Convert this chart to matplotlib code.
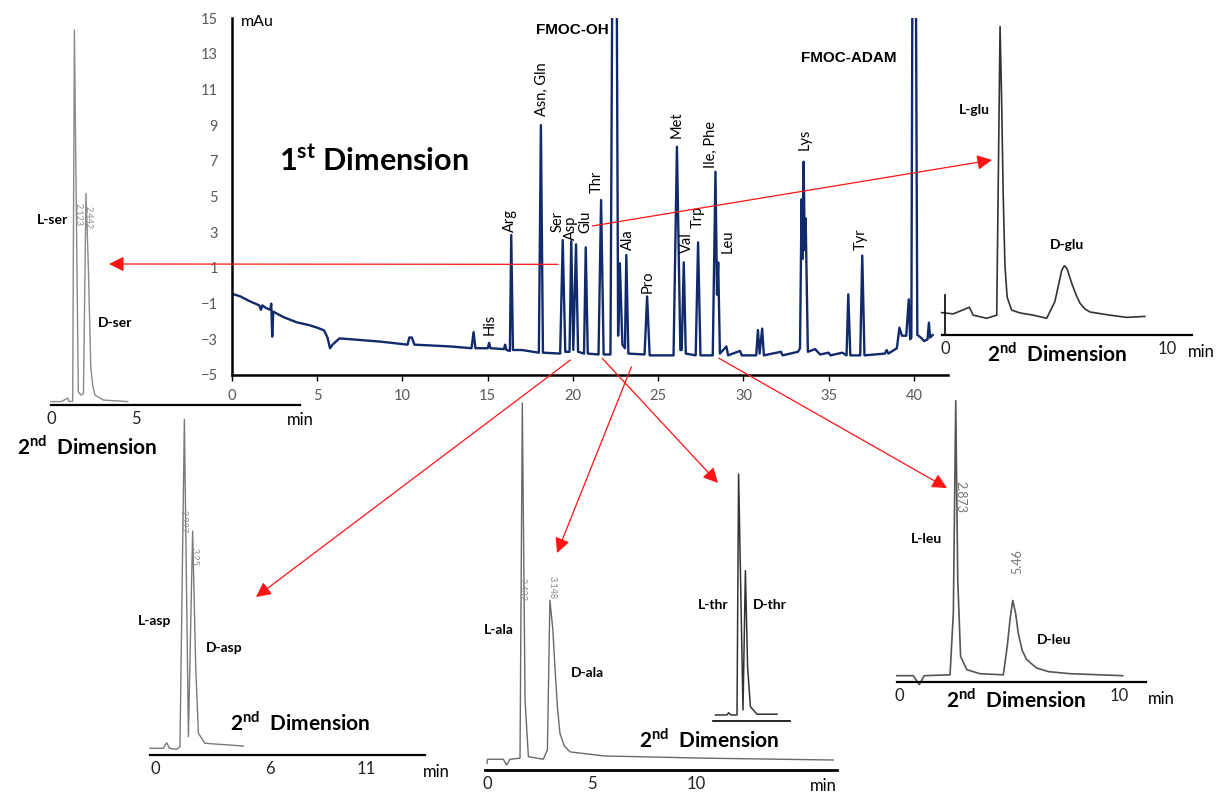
import matplotlib
matplotlib.use("Agg")
import matplotlib.pyplot as plt
from matplotlib.patches import ConnectionPatch

W, H = 1222, 794
NAVY = "#102a6b"
RED = "#ff1414"

plt.rcParams["font.family"] = ["Lato", "DejaVu Sans"]
plt.rcParams["mathtext.fontset"] = "custom"
plt.rcParams["mathtext.rm"] = "Lato"
plt.rcParams["mathtext.bf"] = "Lato:bold"

# 1st dimension chromatogram, (min, mAu)
main_trace = [
    (0.0, -0.45), (0.5, -0.6), (1.0, -0.85), (1.6, -1.1), (1.7, -1.35), (1.78, -1.1),
    (2.0, -1.25), (2.25, -1.35), (2.3, -1.0), (2.36, -2.85), (2.42, -1.45), (3.0, -1.75),
    (3.8, -2.05), (4.5, -2.2), (5.0, -2.35), (5.4, -2.5), (5.6, -2.9), (5.75, -3.5),
    (5.9, -3.3), (6.3, -2.95), (7.0, -3.0), (8.7, -3.13), (10.3, -3.3), (10.4, -2.9),
    (10.55, -2.9), (10.7, -3.3), (12.8, -3.4), (14.05, -3.5), (14.17, -2.6), (14.28, -3.5),
    (15.0, -3.5), (15.08, -3.2), (15.16, -3.5), (15.95, -3.55), (16.02, -3.3), (16.1, -3.6),
    (16.3, -3.65), (16.38, 2.84), (16.48, -3.6), (17.0, -3.6), (18.0, -3.75), (18.12, 9.0),
    (18.24, -3.75), (19.25, -3.8), (19.4, 2.56), (19.55, -3.7), (19.8, -3.7), (19.9, 2.5),
    (20.02, -3.6), (20.18, 2.32), (20.3, -3.7), (20.65, -3.8), (20.75, 2.15), (20.87, -3.8),
    (21.5, -3.85), (21.65, 4.8), (21.8, -3.85), (22.2, -3.85), (22.45, 45.0), (22.65, -2.8),
    (22.75, 1.26), (22.9, -3.3), (23.05, -3.5), (23.13, 1.72), (23.25, -3.8), (24.2, -3.85),
    (24.35, -0.6), (24.5, -3.9), (25.9, -3.9), (26.1, 7.79), (26.3, -3.6), (26.38, -3.6),
    (26.5, 1.31), (26.62, -3.8), (27.2, -3.9), (27.34, 2.43), (27.48, -3.9), (28.2, -3.9),
    (28.36, 6.39), (28.45, -0.5), (28.52, 1.3), (28.62, -3.8), (29.0, -3.4), (29.1, -3.9),
    (29.8, -3.65), (29.9, -3.9), (30.75, -3.9), (30.85, -2.48), (30.95, -3.8), (31.1, -2.4),
    (31.2, -3.9), (32.2, -3.7), (32.3, -3.9), (33.2, -3.7), (33.32, -3.5), (33.41, 4.84),
    (33.47, 1.5), (33.53, 6.95), (33.6, 2.0), (33.65, 3.78), (33.78, -3.7), (34.2, -3.55),
    (34.5, -3.85), (35.0, -3.75), (35.1, -3.9), (35.8, -3.75), (36.05, -3.9), (36.15, -0.48),
    (36.27, -3.9), (36.85, -3.9), (36.97, 1.69), (37.1, -3.9), (38.3, -3.8), (38.4, -3.6),
    (38.5, -3.8), (39.0, -3.5), (39.15, -2.35), (39.3, -2.8), (39.55, -2.8), (39.7, -0.76),
    (39.78, -3.0), (39.85, -2.9), (40.0, 45.0), (40.2, -2.75), (40.4, -2.9), (40.6, -3.1),
    (40.8, -3.0), (40.88, -2.07), (40.95, -2.9), (41.1, -2.76),
]

peak_names = ["His", "Arg", "Asn, Gln", "Ser", "Asp", "Glu", "Thr", "Ala", "Pro",
              "Met", "Val", "Trp", "Ile, Phe", "Leu", "Lys", "Tyr"]
peak_label_t = [15.1, 16.3, 18.2, 19.1, 19.9, 20.7, 21.4, 23.25, 24.4,
                26.1, 26.7, 27.3, 28.1, 29.05, 33.6, 36.9]
peak_label_y = [-2.76, 3.03, 9.5, 3.0, 2.56, 2.95, 5.2, 2.0, -0.39,
                8.26, 1.82, 3.22, 6.58, 1.85, 7.6, 2.0]

# 2nd dimension traces (min, relative signal 0-100)
ser_trace = [(0, 0.9), (0.6, 0.9), (0.98, 1.8), (1.06, 0.9), (1.27, 1.0), (1.37, 98.7),
             (1.6, 3.5), (1.75, 2.6), (1.9, 3.0), (2.05, 55.7), (2.19, 36.0), (2.33, 10.0),
             (2.45, 5.0), (2.58, 2.6), (3.07, 1.3), (4.5, 0.9)]
glu_trace = [(-0.15, 7.1), (0.37, 6.7), (1.1, 8.8), (1.27, 6.3), (1.88, 5.3), (2.33, 6.3),
             (2.48, 97.9), (2.55, 75.0), (2.62, 45.0), (2.7, 22.0), (2.8, 12.0), (3.0, 7.9),
             (3.38, 7.0), (3.98, 6.3), (4.58, 5.3), (4.95, 10.6), (5.1, 15.5), (5.26, 20.6),
             (5.38, 22.0), (5.5, 21.0), (5.71, 16.4), (5.9, 12.8), (6.08, 10.1), (6.3, 8.3),
             (6.53, 7.3), (7.43, 6.3), (8.18, 5.6), (9.0, 5.9)]
asp_trace = [(-0.26, 1.94), (0.43, 1.94), (0.61, 3.57), (0.75, 1.94), (1.13, 1.65), (1.3, 2.4),
             (1.53, 97.3), (1.74, 5.3), (1.96, 64.9), (2.12, 25.6), (2.26, 6.3), (2.6, 3.4),
             (4.6, 2.6)]
ala_trace = [(0.0, 1.8), (0.02, 2.9), (0.78, 2.9), (0.94, 1.35), (1.1, 2.9), (1.58, 3.2),
             (1.69, 99.2), (1.82, 18.9), (1.98, 3.6), (2.69, 2.9), (2.89, 5.4), (3.01, 45.9),
             (3.15, 38.0), (3.25, 27.9), (3.37, 17.0), (3.49, 9.9), (3.7, 6.5), (3.97, 4.9),
             (5.6, 3.8), (10.4, 3.2), (16.57, 2.7)]
thr_trace = [(0.12, 2.4), (0.7, 2.4), (0.78, 3.3), (0.9, 2.4), (1.2, 2.4), (1.28, 98.4),
             (1.5, 4.4), (1.62, 59.9), (1.73, 21.6), (1.87, 5.7), (2.2, 2.7), (3.2, 2.7)]
leu_trace = [(-0.1, 2.2), (0.65, 2.2), (0.92, -0.9), (1.15, 2.2), (2.32, 2.5), (2.47, 24.0),
             (2.58, 98.0), (2.67, 35.6), (2.8, 8.9), (3.08, 4.3), (3.67, 2.9), (4.74, 2.5),
             (4.92, 12.4), (5.05, 22.0), (5.17, 28.4), (5.3, 24.0), (5.42, 17.0), (5.6, 11.0),
             (5.8, 7.8), (6.25, 4.9), (6.8, 3.6), (7.77, 2.9), (10.17, 2.2)]

SECOND = "2$^{\\mathbf{nd}}$  Dimension"


def fpos(x, y):
    return x / W, 1 - y / H


fig = plt.figure(figsize=(W / 100, H / 100), dpi=100)

# ---- 1st dimension ----
ax = fig.add_axes([232 / W, 1 - 375 / H, (948 - 232) / W, (375 - 18) / H])
ax.patch.set_alpha(0)
t, y = zip(*main_trace)
ax.plot(t, y, color=NAVY, lw=1.7)
ax.set_xlim(0, 42)
ax.set_ylim(-5, 15)
ax.set_xticks(range(0, 41, 5))
ax.set_yticks(range(-5, 16, 2))
for s in ("top", "right"):
    ax.spines[s].set_visible(False)
for s in ("left", "bottom"):
    ax.spines[s].set_linewidth(1.8)
ax.tick_params(axis="x", length=4, width=1, pad=6, labelsize=10.5, labelcolor="#595959")
ax.tick_params(axis="y", length=0, pad=10, labelsize=10.5, labelcolor="#595959")

for name, xt, yt in zip(peak_names, peak_label_t, peak_label_y):
    ax.text(xt, yt, name, rotation=90, ha="center", va="bottom", fontsize=10.5)
ax.text(0.5, 14.8, "mAu", fontsize=11.5, va="center", ha="left")
ax.text(22.1, 14.35, "FMOC-OH", family="Liberation Sans", weight="bold",
        fontsize=11, ha="right", va="center")
ax.text(36.2, 12.76, "FMOC-ADAM", family="Liberation Sans", weight="bold",
        fontsize=11, ha="center", va="center")
ax.text(8.3, 7.0, "1$^{\\mathbf{st}}$ Dimension", fontsize=22, weight="bold",
        ha="center", va="center")


# ---- 2nd dimension insets ----
def inset(x0, x1, y_axis, y_top, zero_px, px_per_min, ticks, lw_axis=1.6):
    a = fig.add_axes([x0 / W, 1 - y_axis / H, (x1 - x0) / W, (y_axis - y_top) / H])
    a.set_xlim((x0 - zero_px) / px_per_min, (x1 - zero_px) / px_per_min)
    a.set_ylim(0, 100)
    a.patch.set_alpha(0)
    for s in ("top", "right", "left"):
        a.spines[s].set_visible(False)
    a.spines["bottom"].set_linewidth(lw_axis)
    a.set_yticks([])
    a.set_xticks(ticks)
    a.tick_params(axis="x", length=0, labelsize=12, pad=4, labelcolor="#222222")
    return a


def trace(a, data, color, lw):
    tt, yy = zip(*data)
    a.plot(tt, yy, color=color, lw=lw, clip_on=False)


def label(x, y, s, size=10, **kw):
    fig.text(*fpos(x, y), s, ha="center", va="center", fontsize=size,
             weight="bold", **kw)


def rt_note(x, y, s, rot=-90, size=6.5, color="#8c8c8c"):
    fig.text(*fpos(x, y), s, ha="center", va="center", fontsize=size,
             rotation=rot, color=color)


# L-ser / D-ser
a = inset(51, 300, 405, 25, 51, 17.07, [0, 5])
trace(a, ser_trace, "#8a8a8a", 1.0)
label(52, 220, "L-ser")
label(115, 323, "D-ser")
label(87, 447, SECOND, size=15)
fig.text(*fpos(300, 420), "min", ha="center", va="center", fontsize=12)
rt_note(78, 215, "2.123")
rt_note(88, 218, "2.442")

# L-glu / D-glu
a = inset(942, 1192, 335, 20, 945, 22.2, [0, 10])
a.spines["left"].set_visible(True)
a.spines["left"].set_position(("data", 0))
a.spines["left"].set_bounds(0, 12.7)
a.spines["left"].set_linewidth(1.2)
trace(a, glu_trace, "#333333", 1.2)
label(974, 110, "L-glu")
label(1067, 245, "D-glu")
label(1057, 354, SECOND, size=15)
fig.text(*fpos(1201, 352), "min", ha="center", va="center", fontsize=12)

# L-asp / D-asp
a = inset(150, 425, 755, 410, 155, 19.2, [0, 6, 11])
trace(a, asp_trace, "#7a7a7a", 1.0)
label(155, 621, "L-asp")
label(224, 648, "D-asp")
label(300, 723, SECOND, size=15)
fig.text(*fpos(436, 772), "min", ha="center", va="center", fontsize=12)
rt_note(183, 522, "2.927")
rt_note(194, 557, "3.25")

# L-ala / D-ala
a = inset(485, 837, 770, 400, 487, 20.9, [0, 5, 10], lw_axis=2.0)
trace(a, ala_trace, "#6a6a6a", 1.0)
label(499, 630, "L-ala")
label(587, 673, "D-ala")
fig.text(*fpos(823, 786), "min", ha="center", va="center", fontsize=12)
rt_note(522, 590, "2.432")
rt_note(552, 587, "3.148")

# L-thr / D-thr
a = inset(713, 790, 721, 470, 713, 20.0, [], lw_axis=1.2)
trace(a, thr_trace, "#333333", 1.1)
label(713, 605, "L-thr")
label(770, 605, "D-thr")
label(709, 740, SECOND, size=15)

# L-leu / D-leu
a = inset(897, 1146, 682, 395, 899, 22.0, [0, 10])
trace(a, leu_trace, "#555555", 1.2)
label(926, 539, "L-leu")
label(1054, 640, "D-leu")
label(1016, 700, SECOND, size=15)
fig.text(*fpos(1161, 699), "min", ha="center", va="center", fontsize=12)
rt_note(960, 497, "2.873", size=9, color="#777777")
rt_note(1017, 562, "5.46", rot=90, size=9, color="#777777")

# ---- red arrows from 1st dimension cuts to 2nd dimension runs ----
arrow_from = [(19.12, 1.2), (21.14, 3.35), (19.85, -4.16),
              (23.43, -4.54), (21.71, -4.06), (28.56, -4.06)]
arrow_to = [(109, 264), (992, 160), (256, 597), (557, 553), (718, 483), (947, 488)]
for (xa, ya), (xb, yb) in zip(arrow_from, arrow_to):
    con = ConnectionPatch(xyA=(xa, ya), coordsA=ax.transData,
                          xyB=fpos(xb, yb), coordsB=fig.transFigure,
                          arrowstyle="-|>,head_length=0.6,head_width=0.3",
                          mutation_scale=15, color=RED, lw=0.9,
                          shrinkA=0, shrinkB=0, zorder=10)
    fig.add_artist(con)

fig.savefig("out.png", dpi=100)
